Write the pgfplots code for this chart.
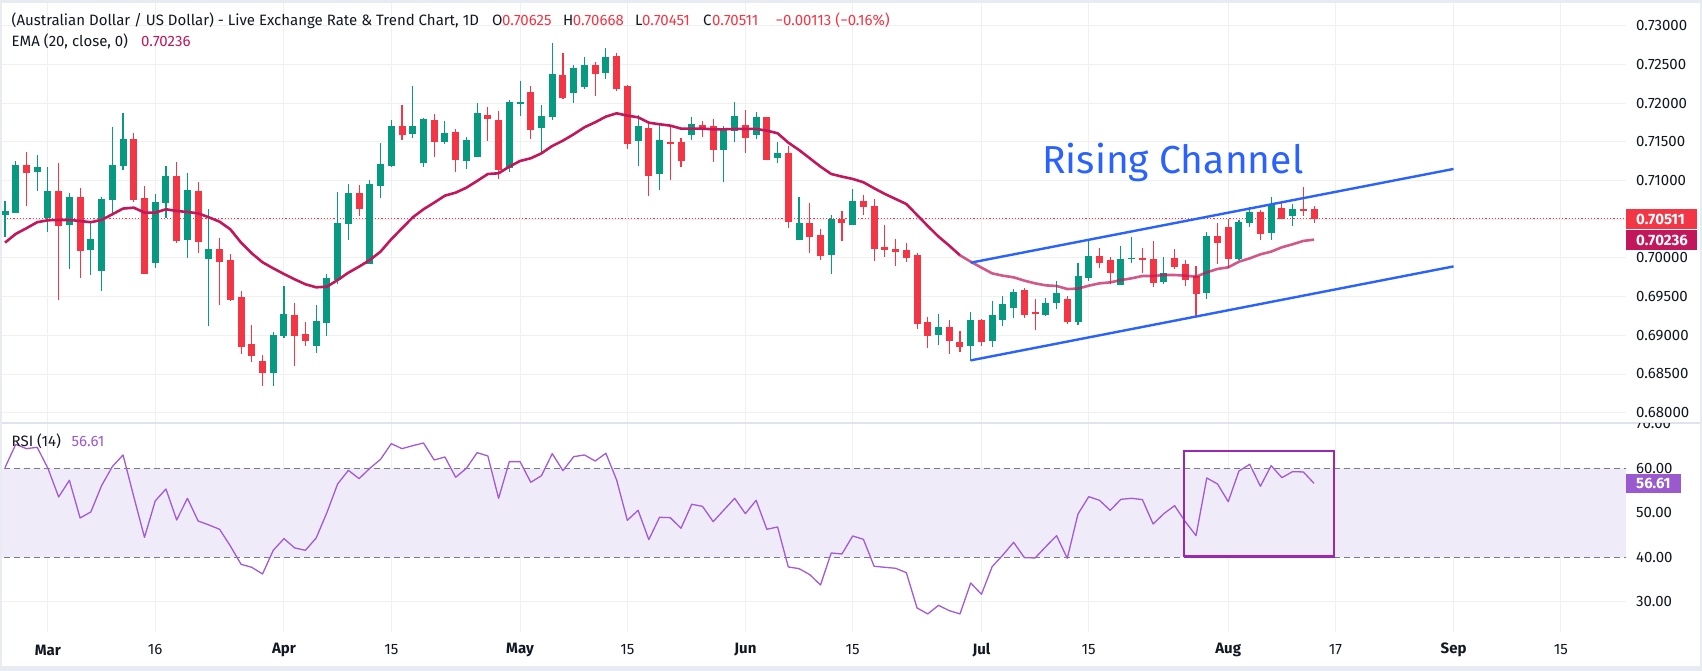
\documentclass[border=0pt]{standalone}
\usepackage{pgfplots}
\pgfplotsset{compat=1.18}
\usepackage{pgfplotstable}
\usepackage{fontspec}
\setmainfont{Fira Sans}
\definecolor{upc}{HTML}{089981}
\definecolor{dnc}{HTML}{F23645}
\definecolor{emac}{HTML}{C2185B}
\definecolor{textc}{HTML}{131722}
\definecolor{gridc}{HTML}{EEF0F4}
\definecolor{framec}{HTML}{E8EBF1}
\definecolor{chanc}{HTML}{2962FF}
\definecolor{rsic}{HTML}{A25BD5}
\definecolor{bandc}{HTML}{F0EBF8}
\definecolor{dashc}{HTML}{787B86}
\definecolor{boxc}{HTML}{9C27B0}
\definecolor{rsilab}{HTML}{9B59D0}
\definecolor{sepc}{HTML}{E0E3EB}

\pgfplotstableread{
i O H L C
0 0.70554 0.70735 0.70275 0.70606
1 0.70589 0.71252 0.70585 0.71200
3 0.71110 0.71329 0.70868 0.71174
4 0.70515 0.71174 0.70335 0.70864
6 0.70430 0.70838 0.69857 0.70786
8 0.70102 0.70477 0.69779 0.70232
9 0.69835 0.70786 0.69572 0.70761
10 0.70748 0.71692 0.70554 0.71200
11 0.71187 0.71872 0.71136 0.71524
14 0.69934 0.70825 0.69870 0.70722
15 0.70709 0.71187 0.70515 0.71058
17 0.70232 0.71097 0.69999 0.70877
19 0.69986 0.70631 0.69120 0.70115
25 0.68513 0.69043 0.68345 0.69004
26 0.68991 0.69637 0.68965 0.69275
29 0.68862 0.69391 0.68771 0.69185
30 0.69159 0.69792 0.68991 0.69740
31 0.69714 0.70851 0.69663 0.70451
32 0.70438 0.70955 0.70232 0.70838
34 0.69921 0.71007 0.69915 0.70955
35 0.70929 0.71485 0.70774 0.71213
36 0.71187 0.71782 0.71180 0.71704
38 0.71601 0.72221 0.71549 0.71704
39 0.71230 0.71808 0.71179 0.71786
41 0.71502 0.71769 0.71472 0.71601
43 0.71256 0.71562 0.71149 0.71511
44 0.71308 0.72001 0.71300 0.71872
47 0.71162 0.72040 0.71110 0.72014
48 0.71993 0.72285 0.71833 0.72014
50 0.71678 0.71976 0.71347 0.71833
51 0.71820 0.72776 0.71782 0.72376
53 0.72130 0.72492 0.72001 0.72453
54 0.72208 0.72596 0.72182 0.72492
56 0.72389 0.72712 0.72311 0.72583
59 0.71511 0.71846 0.71187 0.71692
61 0.71084 0.71743 0.70877 0.71511
64 0.71588 0.71820 0.71524 0.71730
67 0.71394 0.71704 0.70981 0.71640
68 0.71640 0.72014 0.71497 0.71833
70 0.71588 0.71885 0.71536 0.71808
72 0.71291 0.71497 0.71226 0.71343
74 0.70232 0.70786 0.70225 0.70451
77 0.70037 0.70554 0.69792 0.70490
79 0.70425 0.70890 0.70420 0.70735
87 0.69004 0.69275 0.68875 0.69107
90 0.68862 0.69301 0.68668 0.69198
92 0.68926 0.69443 0.68849 0.69262
93 0.69198 0.69508 0.69120 0.69404
94 0.69353 0.69598 0.69224 0.69559
97 0.69262 0.69482 0.69255 0.69417
98 0.69417 0.69702 0.69340 0.69534
100 0.69172 0.69934 0.69133 0.69766
101 0.69740 0.70232 0.69702 0.70012
104 0.69650 0.70154 0.69645 0.69986
105 0.69986 0.70270 0.69934 0.69999
108 0.69689 0.70012 0.69663 0.69805
112 0.69546 0.70335 0.69469 0.70283
115 0.69986 0.70490 0.69973 0.70464
116 0.70455 0.70658 0.70399 0.70593
118 0.70326 0.70786 0.70232 0.70683
120 0.70541 0.70696 0.70412 0.70631
}\uptable

\pgfplotstableread{
i O H L C
2 0.71200 0.71369 0.70670 0.71110
5 0.70864 0.71226 0.69456 0.70430
7 0.70786 0.70903 0.69740 0.70102
12 0.71524 0.71614 0.70722 0.70761
13 0.70774 0.70929 0.69800 0.69805
16 0.71058 0.71239 0.70193 0.70232
18 0.70864 0.70981 0.70064 0.70219
20 0.70115 0.70258 0.69391 0.69960
21 0.69973 0.70050 0.69443 0.69469
22 0.69494 0.69572 0.68758 0.68867
23 0.68888 0.69133 0.68655 0.68745
24 0.68668 0.68745 0.68345 0.68526
27 0.69262 0.69417 0.68603 0.69004
28 0.69017 0.69172 0.68862 0.68939
33 0.70838 0.70942 0.70541 0.70644
37 0.71704 0.71976 0.71524 0.71601
40 0.71769 0.71859 0.71304 0.71515
42 0.71614 0.71665 0.71110 0.71282
45 0.71846 0.71950 0.71511 0.71812
46 0.71769 0.71898 0.71019 0.71149
49 0.72143 0.72221 0.71536 0.71665
52 0.72363 0.72647 0.72053 0.72079
55 0.72492 0.72531 0.72092 0.72389
57 0.72596 0.72647 0.72156 0.72195
58 0.72221 0.72234 0.71407 0.71485
60 0.71678 0.71730 0.70799 0.71071
62 0.71497 0.71692 0.71007 0.71480
63 0.71497 0.71549 0.71174 0.71265
65 0.71717 0.71769 0.71562 0.71678
66 0.71692 0.71795 0.71239 0.71407
69 0.71717 0.71911 0.71356 0.71562
71 0.71808 0.71820 0.71270 0.71278
73 0.71343 0.71446 0.70387 0.70477
75 0.70451 0.70709 0.70064 0.70283
76 0.70296 0.70374 0.69973 0.70037
78 0.70490 0.70606 0.70219 0.70464
80 0.70735 0.70812 0.70554 0.70670
81 0.70670 0.70761 0.69960 0.70128
82 0.70141 0.70425 0.70012 0.70115
83 0.70115 0.70245 0.69895 0.70094
84 0.70102 0.70193 0.69947 0.70012
85 0.70037 0.70064 0.69081 0.69159
86 0.69172 0.69237 0.68836 0.69004
88 0.69107 0.69198 0.68758 0.68939
89 0.68913 0.69056 0.68784 0.68862
91 0.69198 0.69211 0.68862 0.68926
95 0.69585 0.69611 0.69224 0.69275
96 0.69301 0.69469 0.69069 0.69288
99 0.69469 0.69508 0.69146 0.69185
102 0.70012 0.70128 0.69870 0.69947
103 0.69973 0.70012 0.69663 0.69818
106 0.69999 0.70128 0.69805 0.69986
107 0.69986 0.70219 0.69624 0.69689
109 0.69999 0.70115 0.69857 0.69895
110 0.69921 0.69973 0.69637 0.69727
111 0.69766 0.69895 0.69237 0.69546
113 0.70283 0.70451 0.69921 0.70206
114 0.70399 0.70503 0.69870 0.70003
117 0.70593 0.70619 0.70232 0.70326
119 0.70644 0.70735 0.70503 0.70515
121 0.70631 0.70916 0.70541 0.70619
122 0.70625 0.70668 0.70451 0.70511
}\dntable

\pgfplotstableread{
i v
0 0.70197
1 0.70310
2 0.70383
3 0.70461
4 0.70486
5 0.70490
6 0.70490
7 0.70477
8 0.70461
9 0.70490
10 0.70563
11 0.70637
12 0.70649
13 0.70585
14 0.70585
15 0.70628
16 0.70606
17 0.70593
18 0.70576
19 0.70524
20 0.70468
21 0.70369
22 0.70197
23 0.70059
24 0.69943
25 0.69865
26 0.69792
27 0.69723
28 0.69659
29 0.69620
30 0.69628
31 0.69714
32 0.69809
33 0.69887
34 0.69973
35 0.70081
36 0.70241
37 0.70383
38 0.70524
39 0.70628
40 0.70714
41 0.70804
42 0.70843
43 0.70907
44 0.70994
45 0.71084
46 0.71093
47 0.71179
48 0.71252
49 0.71287
50 0.71351
51 0.71446
52 0.71515
53 0.71597
54 0.71687
55 0.71752
56 0.71825
57 0.71868
58 0.71838
59 0.71816
60 0.71747
61 0.71726
62 0.71709
63 0.71670
64 0.71670
65 0.71670
66 0.71661
67 0.71661
68 0.71666
69 0.71666
70 0.71666
71 0.71644
72 0.71610
73 0.71489
74 0.71394
75 0.71287
76 0.71179
77 0.71084
78 0.71050
79 0.71020
80 0.70977
81 0.70899
82 0.70826
83 0.70761
84 0.70696
85 0.70554
86 0.70412
87 0.70275
88 0.70158
89 0.70033
90 0.69951
91 0.69874
92 0.69800
93 0.69770
94 0.69749
95 0.69706
96 0.69671
97 0.69645
98 0.69637
99 0.69598
100 0.69603
101 0.69641
102 0.69671
103 0.69684
104 0.69714
105 0.69736
106 0.69766
107 0.69766
108 0.69779
109 0.69779
110 0.69770
111 0.69757
112 0.69813
113 0.69857
114 0.69878
115 0.69951
116 0.69994
117 0.70046
118 0.70081
119 0.70137
120 0.70176
121 0.70219
122 0.70236
}\ematable

\pgfplotstableread{
i r
0 60.15
1 65.39
2 64.42
3 64.72
4 60.00
5 53.56
6 57.30
7 48.84
8 50.19
9 56.10
10 60.37
11 63.00
12 53.63
13 44.49
14 52.66
15 55.36
16 48.39
17 53.26
18 48.16
19 47.27
20 46.29
21 42.55
22 38.43
23 37.75
24 36.25
25 41.57
26 44.19
27 42.10
28 41.57
29 44.34
30 50.04
31 56.48
32 59.55
33 57.68
34 60.00
35 62.02
36 65.54
37 64.42
38 65.09
39 65.69
40 61.87
41 62.55
42 57.98
43 60.00
44 63.52
45 62.77
46 53.26
47 61.50
48 61.50
49 56.85
50 58.35
51 63.30
52 59.48
53 62.62
54 63.00
55 61.65
56 63.37
57 57.38
58 48.31
59 50.56
60 43.97
61 48.99
62 48.91
63 46.52
64 51.91
65 51.46
66 48.01
67 50.64
68 53.26
69 49.81
70 52.81
71 46.29
72 46.82
73 37.83
74 37.45
75 36.10
76 33.78
77 40.97
78 40.75
79 44.79
80 44.04
81 37.98
82 37.75
83 37.53
84 36.55
85 28.61
86 27.27
87 29.21
88 28.01
89 27.27
90 34.23
91 31.69
92 37.90
93 40.52
94 43.37
95 39.93
96 39.85
97 42.40
98 44.87
99 39.78
100 49.74
101 53.63
102 52.81
103 50.56
104 53.03
105 53.26
106 52.96
107 47.49
108 49.81
109 51.61
110 48.01
111 44.87
112 57.83
113 56.48
114 52.51
115 59.40
116 60.90
117 55.96
118 60.60
119 57.90
120 59.25
121 59.18
122 56.61
}\rsitable

\pgfplotsset{
  candlewick/.style={draw=none, mark=none, forget plot,
    error bars/.cd, y dir=both, y explicit, error mark=none,
    error bar style={draw=#1, line width=1.1pt}},
  candlebody/.style={draw=none, mark=none, forget plot,
    error bars/.cd, y dir=both, y explicit, error mark=none,
    error bar style={draw=#1, line width=7pt}},
}

\begin{document}
\begin{tikzpicture}[x=1pt,y=1pt]
\useasboundingbox (0,0) rectangle (1702,671);
\fill[framec] (0,0) rectangle (1702,671);
\fill[white] (2,5) rectangle (1700,668);

% ---------------- main price pane ----------------
\begin{axis}[
  at={(2pt,249pt)}, anchor=south west, scale only axis,
  width=1624pt, height=419pt,
  xmin=-0.28, xmax=151.07, ymin=0.67880, ymax=0.73293,
  axis line style={draw=none}, tick style={draw=none},
  xtick={4,14,26,36,48,58,69,79,91,101,114,124,135,145},
  ytick={0.680,0.685,0.690,0.695,0.700,0.705,0.710,0.715,0.720,0.725,0.730},
  xticklabels={}, yticklabels={}, scaled y ticks=false,
  grid=major, major grid style={draw=gridc, line width=1pt},
]
% last price dotted line
\addplot [dnc, line width=1pt, dash pattern=on 1.2pt off 2pt, forget plot] coordinates {(-1,0.70511) (152,0.70511)};
% wicks
\addplot [candlewick=upc]
  table [x=i, y=C, y error plus expr=\thisrow{H}-\thisrow{C}, y error minus expr=\thisrow{C}-\thisrow{L}] {\uptable};
\addplot [candlewick=dnc]
  table [x=i, y=C, y error plus expr=\thisrow{H}-\thisrow{C}, y error minus expr=\thisrow{C}-\thisrow{L}] {\dntable};
% bodies
\addplot [candlebody=upc]
  table [x=i, y=C, y error plus expr=0.00006, y error minus expr=\thisrow{C}-\thisrow{O}+0.00006] {\uptable};
\addplot [candlebody=dnc]
  table [x=i, y=C, y error plus expr=\thisrow{O}-\thisrow{C}+0.00006, y error minus expr=0.00006] {\dntable};
% EMA
\addplot [emac, line width=2.6pt, line join=round, restrict x to domain=0:89] table [x=i, y=v] {\ematable};
\addplot [emac, opacity=0.72, line width=2.6pt, line join=round, restrict x to domain=89:122] table [x=i, y=v] {\ematable};
% channel
\addplot [chanc, line width=2.4pt] coordinates {(90,0.69938) (135,0.71149)};
\addplot [chanc, line width=2.4pt] coordinates {(90,0.68676) (135,0.69890)};
\end{axis}

% ---------------- RSI pane ----------------
\begin{axis}[
  at={(2pt,39pt)}, anchor=south west, scale only axis,
  width=1624pt, height=208pt,
  xmin=-0.28, xmax=151.07, ymin=23.21, ymax=69.96,
  axis line style={draw=none}, tick style={draw=none},
  xtick={4,14,26,36,48,58,69,79,91,101,114,124,135,145},
  ytick={30,50,70},
  xticklabels={}, yticklabels={},
  grid=major, major grid style={draw=gridc, line width=1pt},
]
\addplot [fill=bandc, draw=none, forget plot] coordinates {(-1,40) (152,40) (152,60) (-1,60) (-1,40)};
\addplot [dashc, line width=1pt, dash pattern=on 5.5pt off 4.5pt] coordinates {(-1,60) (152,60)};
\addplot [dashc, line width=1pt, dash pattern=on 5.5pt off 4.5pt] coordinates {(-1,40) (152,40)};
\addplot [rsic, line width=1.3pt, line join=round] table [x=i, y=r] {\rsitable};
\addplot [boxc, line width=2.6pt, line join=miter] coordinates {(109.88,40.13) (123.86,40.13) (123.86,63.89) (109.88,63.89) (109.88,40.13)};
\end{axis}

% pane separator
\draw[sepc, line width=1.5pt] (2,248) -- (1700,248);

% ---------------- texts ----------------
\begin{scope}[every node/.style={inner sep=0pt, font=\fontsize{15}{17}\selectfont, text=textc}]
\node[anchor=base west] at (11.5,645) {(Australian Dollar / US Dollar) - Live Exchange Rate \& Trend Chart, 1D};
\node[anchor=base west] at (492,645) {O};
\node[anchor=base west, text=dnc] at (502,645) {0.70625};
\node[anchor=base west] at (563,645) {H};
\node[anchor=base west, text=dnc] at (572.7,645) {0.70668};
\node[anchor=base west] at (635,645) {L};
\node[anchor=base west, text=dnc] at (642,645) {0.70451};
\node[anchor=base west] at (703,645) {C};
\node[anchor=base west, text=dnc] at (712,645) {0.70511};
\node[anchor=base west, text=dnc] at (775.5,645) {−0.00113 (−0.16\%)};
\node[anchor=base west] at (11.5,624) {EMA (20, close, 0)};
\node[anchor=base west, text=emac] at (141,624) {0.70236};
\node[anchor=base west] at (11.4,224) {RSI (14)};
\node[anchor=base west, text=rsilab] at (71.4,224) {56.61};

% price axis labels
\node[anchor=west] at (1636,645.3) {0.73000};
\node[anchor=west] at (1636,606.6) {0.72500};
\node[anchor=west] at (1636,567.9) {0.72000};
\node[anchor=west] at (1636,529.2) {0.71500};
\node[anchor=west] at (1636,490.5) {0.71000};
\node[anchor=west] at (1636,413.1) {0.70000};
\node[anchor=west] at (1636,374.4) {0.69500};
\node[anchor=west] at (1636,335.7) {0.69000};
\node[anchor=west] at (1636,297.0) {0.68500};
\node[anchor=west] at (1636,258.3) {0.68000};
% RSI axis labels
\node[anchor=west] at (1636,202.7) {60.00};
\node[anchor=west] at (1636,158.2) {50.00};
\node[anchor=west] at (1636,113.7) {40.00};
\node[anchor=west] at (1636,69.2) {30.00};
\begin{scope}
\clip (1628,100) rectangle (1700,247);
\node[anchor=west] at (1636,247.2) {70.00};
\end{scope}

% label boxes
\fill[dnc] (1626,441.5) rectangle (1697,462);
\node[anchor=west, text=white] at (1636,451.75) {\bfseries 0.70511};
\fill[emac] (1626,421) rectangle (1697,440.5);
\node[anchor=west, text=white] at (1636,430.75) {\bfseries 0.70236};
\fill[rsilab] (1626,177.5) rectangle (1681,197);
\node[anchor=west, text=white] at (1636,187.25) {\bfseries 56.61};

% date labels
\node at (47.9,21) {\bfseries Mar};
\node at (155.2,21) {16};
\node at (284.0,21) {\bfseries Apr};
\node at (391.3,21) {15};
\node at (520.0,21) {\bfseries May};
\node at (627.3,21) {15};
\node at (745.4,21) {\bfseries Jun};
\node at (852.7,21) {15};
\node at (981.4,21) {\bfseries Jul};
\node at (1088.7,21) {15};
\node at (1228.2,21) {\bfseries Aug};
\node at (1335.5,21) {17};
\node at (1453.6,21) {\bfseries Sep};
\node at (1560.9,21) {15};
\end{scope}

\node[anchor=base west, inner sep=0pt, text=chanc, font=\fontsize{39}{44}\selectfont] at (1042,497.7) {Rising Channel};
\end{tikzpicture}
\end{document}
